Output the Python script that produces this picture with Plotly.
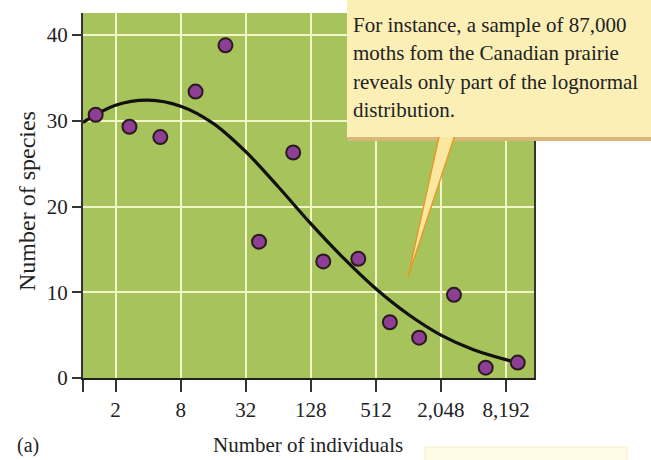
import plotly.graph_objects as go

# ---- data ----
individuals = [1.31, 2.69, 5.19, 11.0, 20.8, 42.5, 88.0, 167, 352, 690, 1287, 2702, 5310, 10510]
species = [30.7, 29.3, 28.1, 33.4, 38.8, 15.9, 26.3, 13.6, 13.9, 6.5, 4.7, 9.7, 1.2, 1.8]

curve_individuals = [1, 2, 4, 8, 16, 32, 64, 128, 256, 512, 1024, 2048, 4096, 10290]
curve_species = [29.8, 31.8, 32.4, 31.7, 29.7, 26.4, 22.3, 18.0, 14.0, 10.4, 7.4, 5.0, 3.3, 1.8]

x_tickvals = [1, 2, 8, 32, 128, 512, 2048, 8192]
x_ticktext = ["", "2", "8", "32", "128", "512", "2,048", "8,192"]
y_tickvals = [0, 10, 20, 30, 40]
y_ticktext = ["0", "10", "20", "30", "40"]

callout_lines = [
    "For instance, a sample of 87,000",
    "moths fom the Canadian prairie",
    "reveals only part of the lognormal",
    "distribution.",
]

SERIF = "Liberation Serif, Times New Roman, serif"
W, H = 651, 460
L, R, T, B = 83, 534, 13, 378  # plot area in pixels


def px(x):
    return (x - L) / (R - L)


def py(y):
    return (B - y) / (B - T)


fig = go.Figure()

fig.add_trace(go.Scatter(
    x=curve_individuals, y=curve_species, mode="lines",
    line=dict(color="#111111", width=3.2, shape="spline", smoothing=1.0),
    hoverinfo="skip", showlegend=False, cliponaxis=False,
))
fig.add_trace(go.Scatter(
    x=individuals, y=species, mode="markers",
    marker=dict(size=14, color="#8d3f93", line=dict(color="#2b1a22", width=2)),
    showlegend=False, cliponaxis=False,
))

shapes = []
# shadow strip under callout box
shapes.append(dict(type="rect", xref="paper", yref="paper",
                   x0=px(347), x1=px(651), y0=py(141), y1=py(136),
                   fillcolor="#d9b77a", line=dict(width=0), layer="above"))
# callout tail
shapes.append(dict(type="path", xref="paper", yref="paper",
                   path=f"M {px(440)},{py(132)} L {px(456)},{py(132)} L {px(408)},{py(277)} Z",
                   fillcolor="#fbe7a0", line=dict(color="#e39a2c", width=1.5), layer="above"))
# callout box
shapes.append(dict(type="rect", xref="paper", yref="paper",
                   x0=px(347), x1=px(652), y0=py(137), y1=py(-2),
                   fillcolor="#fcefb6", line=dict(width=0), layer="above"))
# faint partial box at bottom right
shapes.append(dict(type="rect", xref="paper", yref="paper",
                   x0=px(425), x1=px(627), y0=py(462), y1=py(447),
                   fillcolor="#fdfbe6", line=dict(color="#f3efc8", width=1), layer="above"))

annotations = []
line_centers = [25, 53, 82, 110]
for txt, yc in zip(callout_lines, line_centers):
    annotations.append(dict(text=txt, xref="paper", yref="paper",
                            x=px(351), y=py(yc), xanchor="left", yanchor="middle",
                            showarrow=False, font=dict(family=SERIF, size=21, color="#222222")))

annotations.append(dict(text="Number of individuals", xref="paper", yref="paper",
                        x=px(308), y=py(445), xanchor="center", yanchor="middle",
                        showarrow=False, font=dict(family=SERIF, size=21, color="#222222")))
annotations.append(dict(text="Number of species", xref="paper", yref="paper",
                        x=px(27), y=py(201), xanchor="center", yanchor="middle", textangle=-90,
                        showarrow=False, font=dict(family=SERIF, size=24, color="#222222")))
annotations.append(dict(text="(a)", xref="paper", yref="paper",
                        x=px(28), y=py(445), xanchor="center", yanchor="middle",
                        showarrow=False, font=dict(family=SERIF, size=20, color="#222222")))

fig.update_layout(
    width=W, height=H,
    margin=dict(l=L, r=W - R, t=T, b=H - B, pad=0),
    paper_bgcolor="white",
    plot_bgcolor="#a7c35b",
    shapes=shapes,
    annotations=annotations,
    xaxis=dict(
        type="log", range=[0, 4.172],
        tickmode="array", tickvals=x_tickvals, ticktext=x_ticktext,
        ticks="outside", ticklen=12, tickwidth=1.5, tickcolor="#333333",
        tickfont=dict(family=SERIF, size=21, color="#222222"),
        showgrid=True, gridcolor="#f2f5c6", gridwidth=2,
        showline=True, linecolor="#222222", linewidth=2,
        zeroline=False, automargin=False,
    ),
    yaxis=dict(
        range=[0, 42.57],
        tickmode="array", tickvals=y_tickvals, ticktext=y_ticktext,
        ticks="outside", ticklen=9, tickwidth=1.5, tickcolor="#333333",
        tickfont=dict(family=SERIF, size=21, color="#222222"),
        showgrid=True, gridcolor="#f2f5c6", gridwidth=2,
        showline=True, linecolor="#333333", linewidth=2, mirror=True,
        zeroline=False, automargin=False,
    ),
)

fig.write_html("out.html")
